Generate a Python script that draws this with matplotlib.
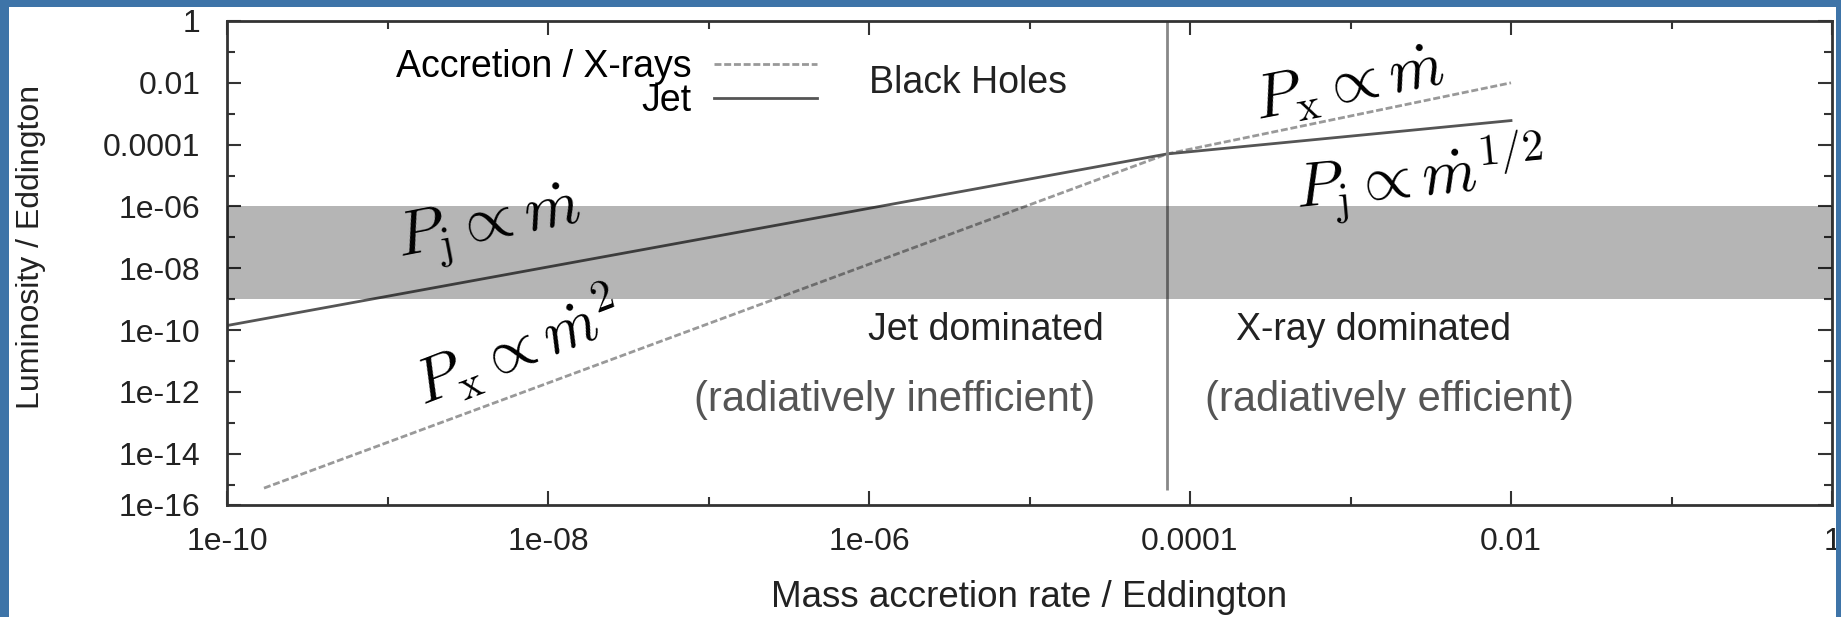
import matplotlib
matplotlib.use('Agg')
import matplotlib.pyplot as plt
from matplotlib.patches import Rectangle
from matplotlib.ticker import NullFormatter

plt.rcParams['font.family'] = ['Liberation Sans', 'DejaVu Sans']
plt.rcParams['mathtext.fontset'] = 'cm'

# data
m_crit = 7.2e-5                      # jet / x-ray switch

mdot_jet = [1e-10, 7.2e-5, 1e-2]
p_jet = [1.4e-10, 5e-5, 6e-4]

mdot_x = [1.7e-10, 7.2e-5, 1e-2]
p_x = [7.7e-16, 5e-5, 1e-2]

band_lo, band_hi = 1e-9, 1e-6
vline_bottom = 6.6e-16

x_lim = (1e-10, 1)
y_lim = (10 ** -15.66, 1)

x_ticks = [1e-10, 1e-8, 1e-6, 1e-4, 1e-2, 1]
x_labels = ['1e-10', '1e-08', '1e-06', '0.0001', '0.01', '1']
x_minor = [1e-9, 1e-7, 1e-5, 1e-3, 1e-1]

y_ticks = [y_lim[0], 1e-14, 1e-12, 1e-10, 1e-8, 1e-6, 1e-4, 1e-2, 1]
y_labels = ['1e-16', '1e-14', '1e-12', '1e-10', '1e-08', '1e-06',
            '0.0001', '0.01', '1']
y_minor = [1e-15, 1e-13, 1e-11, 1e-9, 1e-7, 1e-5, 1e-3, 1e-1]

W, H = 1841, 617
BLUE = '#3e74a8'
DARK = '#333333'
TXT = '#222222'

fig = plt.figure(figsize=(W / 100, H / 100), dpi=100)
fig.patch.set_facecolor('white')

# slide frame strips
for x0, y0, w, h in [(0, 0, 9, H), (0, H - 7, W, 7), (1836, 0, W - 1836, H)]:
    fig.add_artist(Rectangle((x0 / W, y0 / H), w / W, h / H,
                             transform=fig.transFigure, facecolor=BLUE,
                             edgecolor='none', zorder=10))

ax = fig.add_axes([227 / W, 1 - 505 / H, (1832 - 227) / W, (505 - 21) / H])
ax.set_xscale('log')
ax.set_yscale('log')
ax.set_xlim(*x_lim)
ax.set_ylim(*y_lim)

ax.plot(mdot_x, p_x, color='#999999', lw=2, dashes=(2.5, 1),
        label='Accretion / X-rays', zorder=2)
ax.plot(mdot_jet, p_jet, color='#555555', lw=2, label='Jet', zorder=2)
ax.vlines(m_crit, vline_bottom, 1, color='#888888', lw=2, zorder=2)
ax.axhspan(band_lo, band_hi, color='black', alpha=0.29, lw=0, zorder=3)

ax.set_xticks(x_ticks, x_labels)
ax.set_xticks(x_minor, minor=True)
ax.set_yticks(y_ticks, y_labels)
ax.set_yticks(y_minor, minor=True)
ax.xaxis.set_minor_formatter(NullFormatter())
ax.yaxis.set_minor_formatter(NullFormatter())
ax.tick_params(which='both', direction='in', top=True, right=True,
               color=DARK, width=1.5, labelsize=23, labelcolor=TXT)
ax.tick_params(which='major', length=10)
ax.tick_params(which='minor', length=6)
ax.tick_params(axis='y', pad=19)
ax.tick_params(axis='x', pad=16)
for s in ax.spines.values():
    s.set_color(DARK)
    s.set_linewidth(2)

ax.set_xlabel('Mass accretion rate / Eddington', fontsize=26.5, color=TXT)
ax.xaxis.set_label_coords(0.5, -0.155)
ax.set_ylabel('Luminosity / Eddington', fontsize=23, color=TXT)
ax.yaxis.set_label_coords(-0.113, 0.533)

ax.legend(loc='upper right', bbox_to_anchor=(0.3676, 0.942), frameon=False,
          markerfirst=False, fontsize=27, handlelength=2.75,
          handletextpad=0.6, labelspacing=-0.05, borderpad=0,
          borderaxespad=0)

ax.text(1e-6, 1e-2, 'Black Holes', fontsize=27, ha='left', va='center',
        color=TXT)
ax.text(2.9e-5, 1e-10, 'Jet dominated', fontsize=27, ha='right',
        va='center', color=TXT)
ax.text(1e-2, 1e-10, 'X-ray dominated', fontsize=27, ha='right',
        va='center', color=TXT)
ax.text(1.45e-6, 5.4e-13, '(radiatively inefficient)', fontsize=30,
        ha='center', va='center', color='#555555')
ax.text(1.74e-3, 5.4e-13, '(radiatively efficient)', fontsize=30,
        ha='center', va='center', color='#555555')

# power-law annotations
ax.text(4.3e-9, 2e-7, r'$P_\mathrm{j} \propto \dot{m}$', fontsize=46,
        rotation=11, ha='center', va='center', zorder=5)
ax.text(6.4e-9, 2.6e-11, r'$P_\mathrm{x} \propto \dot{m}^2$', fontsize=45,
        rotation=21, ha='center', va='center', zorder=5)
ax.text(9.8e-4, 8.5e-3, r'$P_\mathrm{x} \propto \dot{m}$', fontsize=45,
        rotation=11, ha='center', va='center', zorder=5)
ax.text(2.7e-3, 8.3e-6, r'$P_\mathrm{j} \propto \dot{m}^{1/2}$', fontsize=45,
        rotation=5.5, ha='center', va='center', zorder=5)

fig.savefig('out.png', dpi=100)
